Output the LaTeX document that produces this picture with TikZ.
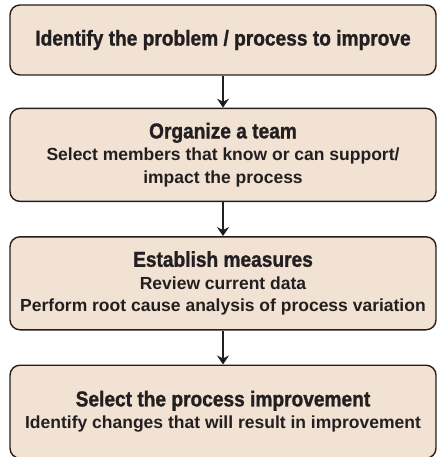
\documentclass[tikz,border=0pt]{standalone}
\usepackage{fontspec}
\setmainfont{Liberation Sans}
\usepackage{tikz}
\usetikzlibrary{arrows.meta,positioning}
\definecolor{boxfill}{HTML}{F2E2D4}
\definecolor{ink}{HTML}{231F20}
\tikzset{>/.tip={Stealth[length=9pt,width=12pt,inset=3pt]}}
\tikzset{stepbox/.style={draw=ink,line width=1.4pt,fill=boxfill,rounded corners=10pt,
    minimum width=426pt,align=center,font=\bfseries\fontsize{17.5}{22.5}\selectfont,text=ink}}
\newcommand{\stephead}[1]{{\fontsize{21.5}{22.5}\selectfont\addfontfeature{FakeStretch=0.89,FakeBold=1.2}#1}}

\begin{document}
\begin{tikzpicture}[x=1pt,y=-1pt,node distance=32pt]
      \useasboundingbox (0,0) rectangle (437,457);
      \node[stepbox,minimum height=70pt](S1) at (223,40){\stephead{Identify the problem / process to improve}};
      \node[stepbox,minimum height=93pt,below=of S1](S2){\stephead{Organize a team}\\
        Select members that know or can support/\\impact the process};
      \node[stepbox,minimum height=93pt,below=34pt of S2](S3){\stephead{Establish measures}\\
        Review current data\\Perform root cause analysis of process variation};
      \node[stepbox,minimum height=93pt,below=34pt of S3](S4){\stephead{Select the process improvement}\\
        Identify changes that will result in improvement};
      
      \draw[->,draw=ink,line width=1.6pt] (S1) edge (S2) (S2) edge (S3) (S3) edge (S4);
    \end{tikzpicture}
\end{document}
